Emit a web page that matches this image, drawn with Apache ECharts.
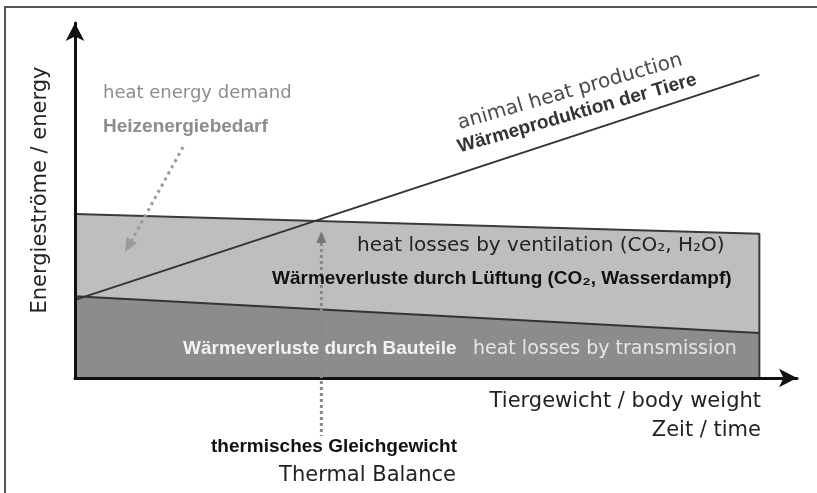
<!DOCTYPE html>
<html>
<head>
<meta charset="utf-8">
<script src="https://cdn.jsdelivr.net/npm/echarts@6/dist/echarts.min.js"></script>
<style>
html, body { margin: 0; padding: 0; background: #fff; }
#main { width: 817px; height: 493px; }
</style>
</head>
<body>
<div id="main"></div>
<script>
// Schema: x = Tiergewicht / Zeit (relativ 0..100), y = Energieströme (relativ)
var xPoints = [0, 100];
var transmission = [23, 12.7];   // Wärmeverluste durch Bauteile (Oberkante)
var ventilation = [46.2, 40.6];  // + Wärmeverluste durch Lüftung (Oberkante)
var animalHeat = [22, 85.4];     // Wärmeproduktion der Tiere
var balanceX = 36;               // thermisches Gleichgewicht

var NORMAL = '"DejaVu Sans", sans-serif';
var BOLD = '"Liberation Sans", Arial, sans-serif';

function pairs(ys) {
    return xPoints.map(function (x, i) { return [x, ys[i]]; });
}

var myChart = echarts.init(document.getElementById('main'));

var axisLine = {
    show: true,
    symbol: ['none', 'arrow'],
    symbolSize: [14, 18],
    lineStyle: { color: '#111', width: 3 }
};

var option = {
    animation: false,
    grid: { left: 75, right: 20, top: 23, bottom: 115 },
    xAxis: {
        type: 'value', min: 0, max: 105.5, z: 5,
        axisLine: axisLine,
        axisTick: { show: false }, axisLabel: { show: false }, splitLine: { show: false }
    },
    yAxis: {
        type: 'value', min: 0, max: 100, z: 5,
        axisLine: axisLine,
        axisTick: { show: false }, axisLabel: { show: false }, splitLine: { show: false }
    },
    series: [
        {
            // Lüftung: helle Fläche bis zur Oberkante, rechter Rand senkrecht
            type: 'line',
            data: pairs(ventilation).concat([[xPoints[xPoints.length - 1], 0]]),
            showSymbol: false, silent: true,
            lineStyle: { color: '#3a3a3a', width: 2 },
            areaStyle: { color: '#bebebe', opacity: 1 }
        },
        {
            // Bauteile: dunkle Fläche
            type: 'line',
            data: pairs(transmission),
            showSymbol: false, silent: true,
            lineStyle: { color: '#333', width: 2 },
            areaStyle: { color: '#8c8c8c', opacity: 1 }
        },
        {
            // Wärmeproduktion der Tiere
            type: 'line',
            data: pairs(animalHeat),
            showSymbol: false, silent: true,
            lineStyle: { color: '#333', width: 2 }
        }
    ],
    graphic: []
};

myChart.setOption(option);

// Hilfslinien an den Achsen verankern
var bx = myChart.convertToPixel({ xAxisIndex: 0 }, balanceX);

function txt(x, y, text, size, font, color, align, rot) {
    return {
        type: 'text', x: x, y: y, rotation: rot || 0, z: 10, silent: true,
        style: {
            text: text, fontSize: size, fontFamily: font,
            fontWeight: font === BOLD ? 'bold' : 'normal',
            fill: color, align: align || 'left', verticalAlign: 'middle'
        }
    };
}

var rot = 16 * Math.PI / 180;

myChart.setOption({
    graphic: [
        // Rahmen
        { type: 'polyline', z: 1, silent: true, shape: { points: [[5, 500], [5, 7], [830, 7]] },
          style: { stroke: '#555', lineWidth: 2, fill: null } },

        // thermisches Gleichgewicht
        { type: 'line', z: 6, silent: true, shape: { x1: bx, y1: 243, x2: bx, y2: 436 },
          style: { stroke: '#888', lineWidth: 3, lineDash: [3, 3] } },
        { type: 'polygon', z: 6, silent: true, shape: { points: [[bx, 231], [bx - 5, 243], [bx + 5, 243]] },
          style: { fill: '#777' } },

        // Heizenergiebedarf
        { type: 'line', z: 6, silent: true, shape: { x1: 183, y1: 147, x2: 132, y2: 240 },
          style: { stroke: '#999', lineWidth: 3, lineDash: [3, 4] } },
        { type: 'polygon', z: 6, silent: true, shape: { points: [[125, 252], [137, 243], [126.5, 237]] },
          style: { fill: '#9a9a9a' } },

        txt(41, 190, 'Energieströme / energy', 21, NORMAL, '#222', 'center', Math.PI / 2),

        txt(103, 93.6, 'heat energy demand', 18, NORMAL, '#8c8c8c'),
        txt(103, 127, 'Heizenergiebedarf', 19, BOLD, '#8c8c8c'),

        txt(458, 124, 'animal heat production', 20, NORMAL, '#4a4a4a', 'left', rot),
        txt(458, 147.5, 'Wärmeproduktion der Tiere', 19, BOLD, '#333', 'left', rot),

        txt(357, 246, 'heat losses by ventilation (CO\u2082, H\u2082O)', 20, NORMAL, '#222'),
        txt(272, 279, 'Wärmeverluste durch Lüftung (CO\u2082, Wasserdampf)', 19, BOLD, '#111'),

        txt(183, 349, 'Wärmeverluste durch Bauteile', 19, BOLD, '#f2f2f2'),
        txt(473, 349, 'heat losses by transmission', 19, NORMAL, '#e6e6e6'),

        txt(761, 401.7, 'Tiergewicht / body weight', 21, NORMAL, '#222', 'right'),
        txt(761, 430.7, 'Zeit / time', 21, NORMAL, '#222', 'right'),

        txt(457, 447, 'thermisches Gleichgewicht', 19, BOLD, '#111', 'right'),
        txt(456, 475.7, 'Thermal Balance', 21, NORMAL, '#222', 'right')
    ]
});
</script>
</body>
</html>
